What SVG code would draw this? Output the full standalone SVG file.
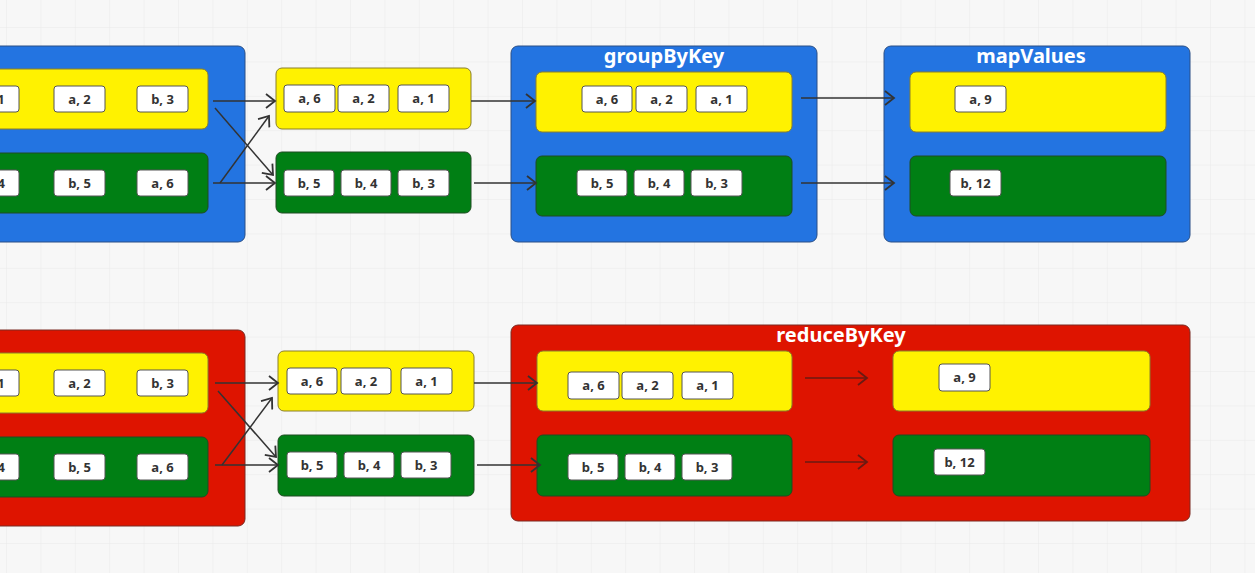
<svg xmlns="http://www.w3.org/2000/svg" width="1255" height="573" viewBox="0 0 1255 573">
<defs>
<pattern id="grid" x="6" y="27" width="34.4" height="34.4" patternUnits="userSpaceOnUse">
<path d="M0,0 H34.4 M0,0 V34.4" fill="none" stroke="#e9e9e9" stroke-width="1"/>
</pattern>
<marker id="arr" viewBox="-1 -8 12 16" refX="9" refY="0" markerWidth="12" markerHeight="16" markerUnits="userSpaceOnUse" orient="auto">
<path d="M0,-7 L9,0 L0,7" fill="none" stroke="#333" stroke-width="1.8"/>
</marker>
<marker id="arr2" viewBox="-1 -8 12 16" refX="9" refY="0" markerWidth="12" markerHeight="16" markerUnits="userSpaceOnUse" orient="auto">
<path d="M0,-7 L9,0 L0,7" fill="none" stroke="#6a1a12" stroke-width="1.8"/>
</marker>
</defs>
<style>
.blue{fill:#2374e1;stroke:#2a4f86;stroke-width:1}
.red{fill:#de1400;stroke:#7a2a22;stroke-width:1}
.yel{fill:#fff200;stroke:#8a7f2a;stroke-width:1}
.grn{fill:#007f14;stroke:#1f4d22;stroke-width:1}
.chip rect{fill:#ffffff;stroke:#555;stroke-width:1}
.chip text{font-family:"Noto Sans","Open Sans",sans-serif;font-weight:bold;font-size:13px;fill:#333;text-anchor:middle}
.title{font-family:"Noto Sans","Open Sans",sans-serif;font-weight:bold;font-size:20px;fill:#ffffff;text-anchor:middle}
.c{fill:none;stroke:#333;stroke-width:1.5;marker-end:url(#arr)}
.c2{fill:none;stroke:#6a1a12;stroke-width:1.5;marker-end:url(#arr2)}
</style>
<rect width="1255" height="573" fill="#f7f7f7"/>
<rect width="1255" height="573" fill="url(#grid)"/>

<!-- Top row -->
<g id="src-top">
<rect class="blue" x="-20" y="46" width="265" height="196" rx="7"/>
<rect class="yel" x="-40" y="69" width="248" height="60" rx="6"/>
<rect class="grn" x="-40" y="153" width="248" height="60" rx="6"/>
<g class="chip"><rect x="-32" y="86" width="51" height="26" rx="3"/><text x="-6.5" y="103.5">a, 1</text></g>
<g class="chip"><rect x="54" y="86" width="51" height="26" rx="3"/><text x="79.5" y="103.5">a, 2</text></g>
<g class="chip"><rect x="137" y="86" width="51" height="26" rx="3"/><text x="162.5" y="103.5">b, 3</text></g>
<g class="chip"><rect x="-32" y="170" width="51" height="26" rx="3"/><text x="-6.5" y="187.5">b, 4</text></g>
<g class="chip"><rect x="54" y="170" width="51" height="26" rx="3"/><text x="79.5" y="187.5">b, 5</text></g>
<g class="chip"><rect x="137" y="170" width="51" height="26" rx="3"/><text x="162.5" y="187.5">a, 6</text></g>
</g>

<g id="shuffle-top">
<rect class="yel" x="276" y="68" width="195" height="61" rx="6"/>
<rect class="grn" x="276" y="152" width="195" height="61" rx="6"/>
<g class="chip"><rect x="284" y="85" width="51" height="27" rx="3"/><text x="309.5" y="103">a, 6</text></g>
<g class="chip"><rect x="338" y="85" width="51" height="27" rx="3"/><text x="363.5" y="103">a, 2</text></g>
<g class="chip"><rect x="398" y="85" width="51" height="27" rx="3"/><text x="423.5" y="103">a, 1</text></g>
<g class="chip"><rect x="284" y="170" width="50" height="26" rx="3"/><text x="309" y="187.5">b, 5</text></g>
<g class="chip"><rect x="341" y="170" width="50" height="26" rx="3"/><text x="366" y="187.5">b, 4</text></g>
<g class="chip"><rect x="398" y="170" width="51" height="26" rx="3"/><text x="423.5" y="187.5">b, 3</text></g>
</g>

<g id="groupByKey">
<rect class="blue" x="511" y="46" width="306" height="196" rx="7"/>
<text class="title" x="664" y="63">groupByKey</text>
<rect class="yel" x="536" y="72" width="256" height="60" rx="6"/>
<rect class="grn" x="536" y="156" width="256" height="60" rx="6"/>
<g class="chip"><rect x="582" y="86" width="50" height="26" rx="3"/><text x="607" y="103.5">a, 6</text></g>
<g class="chip"><rect x="636" y="86" width="51" height="26" rx="3"/><text x="661.5" y="103.5">a, 2</text></g>
<g class="chip"><rect x="696" y="86" width="51" height="26" rx="3"/><text x="721.5" y="103.5">a, 1</text></g>
<g class="chip"><rect x="577" y="170" width="50" height="26" rx="3"/><text x="602" y="187.5">b, 5</text></g>
<g class="chip"><rect x="634" y="170" width="50" height="26" rx="3"/><text x="659" y="187.5">b, 4</text></g>
<g class="chip"><rect x="691" y="170" width="51" height="26" rx="3"/><text x="716.5" y="187.5">b, 3</text></g>
</g>

<g id="mapValues">
<rect class="blue" x="884" y="46" width="306" height="196" rx="7"/>
<text class="title" x="1031" y="63">mapValues</text>
<rect class="yel" x="910" y="72" width="256" height="60" rx="6"/>
<rect class="grn" x="910" y="156" width="256" height="60" rx="6"/>
<g class="chip"><rect x="955" y="86" width="51" height="26" rx="3"/><text x="980.5" y="103.5">a, 9</text></g>
<g class="chip"><rect x="950" y="170" width="51" height="26" rx="3"/><text x="975.5" y="187.5">b, 12</text></g>
</g>

<!-- Bottom row -->
<g id="src-bottom">
<rect class="red" x="-20" y="330" width="265" height="196" rx="7"/>
<rect class="yel" x="-40" y="353" width="248" height="60" rx="6"/>
<rect class="grn" x="-40" y="437" width="248" height="60" rx="6"/>
<g class="chip"><rect x="-32" y="370" width="51" height="26" rx="3"/><text x="-6.5" y="387.5">a, 1</text></g>
<g class="chip"><rect x="54" y="370" width="51" height="26" rx="3"/><text x="79.5" y="387.5">a, 2</text></g>
<g class="chip"><rect x="137" y="370" width="51" height="26" rx="3"/><text x="162.5" y="387.5">b, 3</text></g>
<g class="chip"><rect x="-32" y="454" width="51" height="26" rx="3"/><text x="-6.5" y="471.5">b, 4</text></g>
<g class="chip"><rect x="54" y="454" width="51" height="26" rx="3"/><text x="79.5" y="471.5">b, 5</text></g>
<g class="chip"><rect x="137" y="454" width="51" height="26" rx="3"/><text x="162.5" y="471.5">a, 6</text></g>
</g>

<g id="shuffle-bottom">
<rect class="yel" x="278" y="351" width="196" height="60" rx="6"/>
<rect class="grn" x="278" y="435" width="196" height="61" rx="6"/>
<g class="chip"><rect x="287" y="368" width="50" height="26" rx="3"/><text x="312" y="385.5">a, 6</text></g>
<g class="chip"><rect x="341" y="368" width="50" height="26" rx="3"/><text x="366" y="385.5">a, 2</text></g>
<g class="chip"><rect x="401" y="368" width="51" height="26" rx="3"/><text x="426.5" y="385.5">a, 1</text></g>
<g class="chip"><rect x="287" y="452" width="50" height="26" rx="3"/><text x="312" y="469.5">b, 5</text></g>
<g class="chip"><rect x="344" y="452" width="50" height="26" rx="3"/><text x="369" y="469.5">b, 4</text></g>
<g class="chip"><rect x="401" y="452" width="50" height="26" rx="3"/><text x="426" y="469.5">b, 3</text></g>
</g>

<g id="reduceByKey">
<rect class="red" x="511" y="325" width="679" height="196" rx="7"/>
<text class="title" x="841" y="342">reduceByKey</text>
<rect class="yel" x="537" y="351" width="255" height="60" rx="6"/>
<rect class="grn" x="537" y="435" width="255" height="61" rx="6"/>
<g class="chip"><rect x="568" y="372" width="51" height="27" rx="3"/><text x="593.5" y="390">a, 6</text></g>
<g class="chip"><rect x="622" y="372" width="51" height="27" rx="3"/><text x="647.5" y="390">a, 2</text></g>
<g class="chip"><rect x="682" y="372" width="51" height="27" rx="3"/><text x="707.5" y="390">a, 1</text></g>
<g class="chip"><rect x="568" y="454" width="50" height="26" rx="3"/><text x="593" y="471.5">b, 5</text></g>
<g class="chip"><rect x="625" y="454" width="50" height="26" rx="3"/><text x="650" y="471.5">b, 4</text></g>
<g class="chip"><rect x="682" y="454" width="50" height="26" rx="3"/><text x="707" y="471.5">b, 3</text></g>
<rect class="yel" x="893" y="351" width="257" height="60" rx="6"/>
<rect class="grn" x="893" y="435" width="257" height="61" rx="6"/>
<g class="chip"><rect x="939" y="364" width="51" height="27" rx="3"/><text x="964.5" y="382">a, 9</text></g>
<g class="chip"><rect x="934" y="449" width="51" height="26" rx="3"/><text x="959.5" y="466.5">b, 12</text></g>
</g>

<g id="connectors">
<path class="c" d="M213,101 L275,101"/>
<path class="c" d="M215,108 L273,175"/>
<path class="c" d="M220,183 L269,116"/>
<path class="c" d="M213,183 L275,183"/>
<path class="c" d="M471,101 L535,101"/>
<path class="c" d="M474,183 L536,183"/>
<path class="c" d="M801,98 L894,98"/>
<path class="c" d="M801,183 L894,183"/>
<path class="c" d="M215,383 L278,383"/>
<path class="c" d="M218,391 L276,457"/>
<path class="c" d="M222,465 L272,398"/>
<path class="c" d="M215,465 L278,465"/>
<path class="c" d="M474,383 L537,383"/>
<path class="c" d="M477,465 L540,465"/>
<path class="c2" d="M805,378 L867,378"/>
<path class="c2" d="M805,462 L867,462"/>
</g>
</svg>
